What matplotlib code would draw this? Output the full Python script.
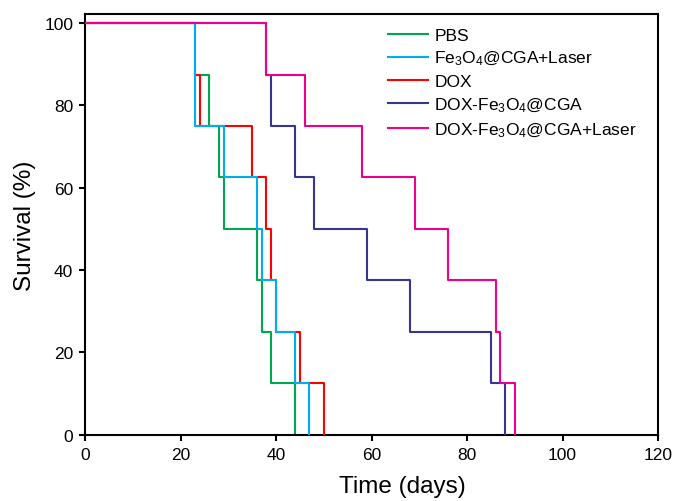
import matplotlib
matplotlib.use("Agg")
import matplotlib.pyplot as plt

plt.rcParams['font.family'] = ['Liberation Sans', 'DejaVu Sans']
plt.rcParams['mathtext.default'] = 'regular'

# survival steps (%), shared by all groups
survival = [100, 87.5, 75, 62.5, 50, 37.5, 25, 12.5, 0]
survival_fe = [100, 75, 62.5, 50, 37.5, 25, 12.5, 0]

# days at which each group steps down
days_pbs = [0, 23, 26, 28, 29, 36, 37, 39, 44]
days_fe_laser = [0, 23, 29, 36, 37, 40, 44, 47]
days_dox = [0, 23, 24, 35, 38, 39, 40, 45, 50]
days_dox_fe = [0, 38, 39, 44, 48, 59, 68, 85, 88]
days_dox_fe_laser = [0, 38, 46, 58, 69, 76, 86, 87, 90]

labels = ["PBS", "Fe$_3$O$_4$@CGA+Laser", "DOX",
          "DOX-Fe$_3$O$_4$@CGA", "DOX-Fe$_3$O$_4$@CGA+Laser"]
colors = ["#00A651", "#00AEEF", "#FF0000", "#34368F", "#EC008C"]

fig = plt.figure(figsize=(6.77, 5.02), dpi=100)
ax = fig.add_axes([0.1256, 0.132, 0.972 - 0.1256, 0.970 - 0.132])

series = [
    (days_pbs, survival, 2),
    (days_fe_laser, survival_fe, 4),
    (days_dox, survival, 3),
    (days_dox_fe, survival, 5),
    (days_dox_fe_laser, survival, 6),
]
for (d, s, z), lab, c in zip(series, labels, colors):
    ax.plot(d, s, drawstyle="steps-post", color=c, lw=1.5, label=lab, zorder=z)

ax.set_xlim(0, 120)
ax.set_ylim(0, 102.2)
ax.set_xticks(range(0, 121, 20))
ax.set_yticks(range(0, 101, 20))
ax.tick_params(direction="out", length=4.5, width=1.5, labelsize=12.5, pad=4)
for sp in ax.spines.values():
    sp.set_linewidth(1.5)

ax.set_xlabel("Time (days)", fontsize=17.5)
ax.set_ylabel("Survival (%)", fontsize=17.5)
ax.xaxis.set_label_coords(0.553, -0.095)
ax.yaxis.set_label_coords(-0.085, 0.5)

ax.legend(loc="upper left", bbox_to_anchor=(0.529, 0.968), frameon=False,
          fontsize=12.5, handlelength=2.3, handletextpad=0.35,
          labelspacing=0.37, borderpad=0, borderaxespad=0)

fig.savefig("out.png", dpi=100)
